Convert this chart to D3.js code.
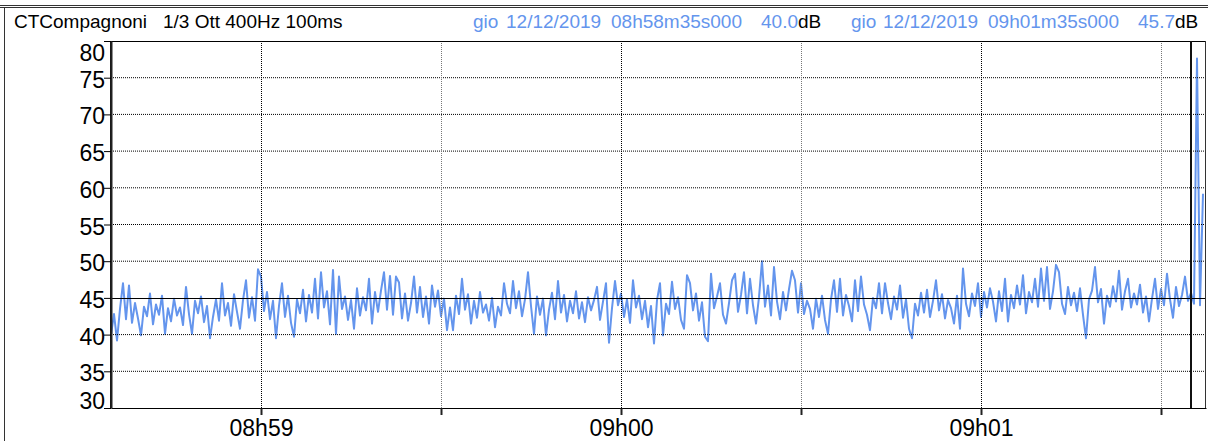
<!DOCTYPE html>
<html>
<head>
<meta charset="utf-8">
<script src="https://cdn.jsdelivr.net/npm/d3@7"></script>
<style>
  body { margin: 0; background: #fff; }
  text { font-family: "Liberation Sans", Arial, sans-serif; }
</style>
</head>
<body>
<div id="chart"></div>
<script>
// --- data ---------------------------------------------------------------
var station = "CTCompagnoni";
var bandInfo = "1/3 Ott 400Hz 100ms";
var dayName = "gio";
var startTime = "2019-12-12 08:58:35";
var stepMs = 500;          // one value every half second
var endTime = "2019-12-12 09:01:37.5";
var cursorIdx = [0, 360];  // cursor positions (index into levels)
var refLevel = 45;
var yTicks = [30, 35, 40, 45, 50, 55, 60, 65, 70, 75, 80];

// Leq 100ms, dB
var levels = [
  40.0, 42.8, 39.2, 43.5, 47.0, 42.1, 46.7, 41.6, 44.3, 42.2,
  39.9, 43.8, 42.5, 45.6, 41.4, 44.1, 42.7, 45.3, 40.1, 43.6,
  41.8, 44.9, 42.6, 43.7, 41.3, 46.5, 42.8, 40.1, 44.6, 42.9,
  45.2, 41.7, 43.9, 39.5, 42.4, 44.8, 41.9, 47.0, 42.6, 44.3,
  41.2, 45.5, 43.1, 40.8, 44.7, 47.4, 42.3, 45.1, 41.9, 48.9,
  47.9, 43.2, 45.8, 42.1, 44.6, 39.5, 43.9, 47.0, 42.4, 45.3,
  41.6, 39.7, 44.8, 42.9, 46.1, 41.8, 45.4, 43.0, 47.6, 42.2,
  48.5, 43.7, 45.9, 41.4, 48.8, 40.1, 47.9, 43.5, 45.2, 42.0,
  44.7, 40.8, 46.3, 42.6, 45.1, 43.3, 47.6, 41.5, 45.8, 43.1,
  46.0, 48.5, 43.4, 48.0, 42.7, 47.9, 47.1, 42.2, 45.6, 41.9,
  44.3, 47.9, 43.0, 46.5, 42.4, 45.2, 41.5, 46.7, 43.8, 46.0,
  42.5, 44.9, 40.6, 43.7, 40.6, 45.3, 42.8, 47.6, 43.4, 45.5,
  41.5, 44.6, 42.3, 45.8, 43.0, 44.1, 41.9, 45.0, 41.0, 43.8,
  42.6, 47.0, 44.2, 42.9, 47.3, 43.6, 45.9, 42.5, 44.8, 48.5,
  43.9, 40.1, 45.2, 42.7, 44.9, 39.9, 43.4, 45.7, 42.1, 47.3,
  43.0, 45.4, 41.8, 44.6, 42.9, 45.9, 42.2, 44.4, 41.7, 45.1,
  43.3, 44.7, 46.5, 42.0, 44.5, 47.0, 38.9, 43.6, 47.3, 44.0,
  45.6, 42.4, 44.8, 41.6, 47.4, 43.7, 45.3, 42.1, 44.6, 41.0,
  43.9, 38.8, 44.7, 47.0, 39.9, 44.2, 42.8, 47.2, 43.5, 45.1,
  42.0, 40.8, 48.1, 47.0, 43.3, 45.6, 41.9, 44.4, 39.7, 39.1,
  48.3, 43.6, 45.2, 47.0, 42.7, 41.5, 44.3, 47.4, 48.3, 43.1,
  45.4, 48.5, 42.9, 47.6, 44.0, 41.5, 45.1, 50.0, 43.8, 46.7,
  42.6, 49.2, 44.5, 42.1, 45.8, 43.3, 46.2, 48.7, 47.4, 43.0,
  47.0, 42.8, 44.6, 43.5, 40.8, 44.9, 42.4, 45.3, 42.0, 40.1,
  44.8, 47.4, 43.1, 47.6, 42.6, 45.4, 43.9, 41.8, 47.4, 43.2,
  47.9, 44.1, 42.7, 40.6, 45.0, 43.6, 47.0, 42.9, 47.0, 44.3,
  42.1, 45.2, 43.4, 46.7, 42.3, 44.8, 40.8, 39.5, 44.2, 42.6,
  45.7, 43.0, 46.1, 42.4, 44.6, 47.4, 43.3, 45.5, 42.2, 44.7,
  43.6, 41.5, 45.3, 40.8, 49.0, 44.2, 42.5, 45.6, 43.9, 47.0,
  42.4, 45.8, 43.7, 46.3, 44.5, 41.8, 45.9, 43.2, 47.6, 41.8,
  45.4, 43.6, 46.7, 44.1, 48.1, 42.9, 45.8, 44.4, 47.6, 43.8,
  49.0, 44.6, 49.2, 43.5, 45.9, 49.5, 48.5, 44.2, 42.8, 46.5,
  44.0, 45.7, 43.2, 46.3, 42.7, 39.5, 44.8, 46.0, 49.2, 44.4,
  46.2, 41.5, 45.3, 43.8, 46.6, 44.5, 48.7, 43.4, 45.9, 47.6,
  43.7, 45.6, 44.1, 46.8, 43.0, 45.2, 41.8, 44.9, 47.6, 43.5,
  46.2, 44.0, 48.3, 44.8, 42.3, 46.5, 43.9, 45.4, 47.9, 44.6,
  45.7, 44.2, 77.6, 44.0, 59.2
];

// --- setup --------------------------------------------------------------
var W = 1208, H = 441;
var plot = {left: 111, right: 1206, top: 41, bottom: 408};
var blue = '#6495ED';

var svg = d3.select('#chart')
            .append('svg')
            .attr('width', W)
            .attr('height', H)
            .style('background-color', 'white');

var parse = d3.timeParse('%Y-%m-%d %H:%M:%S');
var t0 = parse(startTime);
var t1 = d3.timeParse('%Y-%m-%d %H:%M:%S.%L')(endTime + '00');

var points = levels.map(function(v, i){
  return {t: new Date(t0.getTime() + i * stepMs), v: v};
});

var x = d3.scaleTime().domain([t0, t1]).range([plot.left, plot.right]);
var y = d3.scaleLinear().domain([30, 80]).range([plot.bottom, plot.top]);

// outer frame
svg.append('line').attr('x1', 0).attr('x2', W).attr('y1', 5.5).attr('y2', 5.5)
   .attr('stroke', '#333').attr('stroke-width', 1);
svg.append('line').attr('x1', 0).attr('x2', W).attr('y1', 7.5).attr('y2', 7.5)
   .attr('stroke', '#333').attr('stroke-width', 1);
svg.append('line').attr('x1', 4.5).attr('x2', 4.5).attr('y1', 7).attr('y2', H)
   .attr('stroke', '#333').attr('stroke-width', 1);

// header
var fmtDate = d3.timeFormat('%d/%m/%Y');
var fmtTime = d3.timeFormat('%Hh%Mm%Ss%L');
var header = svg.append('g').style('font-size', '19px');
header.append('text').attr('x', 14).attr('y', 28).attr('fill', '#000').text(station);
header.append('text').attr('x', 163).attr('y', 28).attr('fill', '#000').text(bandInfo);

var headPos = [
  {day: 473, date: 506, time: 611, val: 798},
  {day: 851, date: 883, time: 988, val: 1175}
];
cursorIdx.forEach(function(ci, k){
  var p = points[ci], hp = headPos[k];
  header.append('text').attr('x', hp.day).attr('y', 28).attr('fill', blue).text(dayName);
  header.append('text').attr('x', hp.date).attr('y', 28).attr('fill', blue).text(fmtDate(p.t));
  header.append('text').attr('x', hp.time).attr('y', 28).attr('fill', blue).text(fmtTime(p.t));
  header.append('text').attr('x', hp.val).attr('y', 28).attr('fill', blue)
        .attr('text-anchor', 'end').text(p.v.toFixed(1));
  header.append('text').attr('x', hp.val).attr('y', 28).attr('fill', '#000').text('dB');
});

// data line
var line = d3.line()
  .x(function(d){ return x(d.t); })
  .y(function(d){ return y(d.v); });

svg.append('path')
   .datum(points)
   .attr('d', line)
   .attr('fill', 'none')
   .attr('stroke', blue)
   .attr('stroke-width', 2)
   .attr('stroke-linejoin', 'round');

// grid on top of the trace
var ticks30 = d3.timeSecond.every(30).range(t0, t1);
var grid = svg.append('g');
grid.selectAll('.hg')
    .data(yTicks.filter(function(d){ return d != 30 && d != 80 && d != refLevel; }))
    .enter().append('line')
    .attr('x1', plot.left).attr('x2', plot.right)
    .attr('y1', function(d){ return y(d); }).attr('y2', function(d){ return y(d); })
    .attr('stroke', '#000').attr('stroke-width', 1).attr('stroke-dasharray', '1,1');
grid.append('line')
    .attr('x1', plot.left).attr('x2', plot.right)
    .attr('y1', Math.round(y(refLevel)) + 0.5).attr('y2', Math.round(y(refLevel)) + 0.5)
    .attr('stroke', '#000').attr('stroke-width', 1);
grid.selectAll('.vg')
    .data(ticks30)
    .enter().append('line')
    .attr('x1', function(d){ return Math.round(x(d)) + 0.5; })
    .attr('x2', function(d){ return Math.round(x(d)) + 0.5; })
    .attr('y1', plot.top).attr('y2', plot.bottom)
    .attr('stroke', function(d){ return d.getSeconds() == 0 ? '#000' : '#777'; })
    .attr('stroke-width', 1).attr('stroke-dasharray', '1,1');

// plot border
svg.append('line').attr('x1', plot.left).attr('x2', plot.right)
   .attr('y1', plot.top + 0.5).attr('y2', plot.top + 0.5).attr('stroke', '#000');
svg.append('line').attr('x1', plot.right - 0.5).attr('x2', plot.right - 0.5)
   .attr('y1', plot.top).attr('y2', plot.bottom).attr('stroke', '#333');

// cursors
svg.selectAll('.cursor')
   .data(cursorIdx)
   .enter().append('line')
   .attr('x1', function(d){ return Math.round(x(points[d].t)); })
   .attr('x2', function(d){ return Math.round(x(points[d].t)); })
   .attr('y1', plot.top).attr('y2', plot.bottom)
   .attr('stroke', '#111').attr('stroke-width', 2);

// axes
var xAxis = d3.axisBottom(x)
  .tickValues(ticks30)
  .tickSize(7).tickSizeOuter(0).tickPadding(5)
  .tickFormat(function(d){ return d.getSeconds() == 0 ? d3.timeFormat('%Hh%M')(d) : ''; });

var gx = svg.append('g')
   .attr('transform', 'translate(0,' + plot.bottom + ')')
   .call(xAxis);
gx.select('.domain').attr('stroke', '#000');
gx.selectAll('.tick line').attr('stroke', '#222').attr('stroke-width', 2);
gx.selectAll('.tick text').style('font-size', '23px').style('font-family', '"Liberation Sans", Arial, sans-serif').attr('fill', '#000');

var yAxis = d3.axisLeft(y)
  .tickValues(yTicks)
  .tickSize(7).tickSizeOuter(0).tickPadding(-1);

var gy = svg.append('g')
   .attr('transform', 'translate(' + plot.left + ',0)')
   .call(yAxis);
gy.select('.domain').attr('stroke', '#222').attr('stroke-width', 2);
gy.selectAll('.tick line').attr('stroke', '#000');
gy.selectAll('.tick text')
  .style('font-size', '23px')
  .style('font-family', '"Liberation Sans", Arial, sans-serif')
  .attr('fill', '#000')
  .attr('dy', function(d){
    if (d == 80) return '19px';
    if (d == 30) return '0px';
    return '9.5px';
  });
</script>
</body>
</html>
